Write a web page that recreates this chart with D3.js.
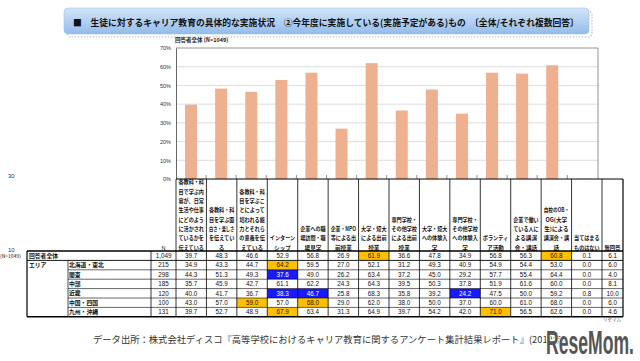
<!DOCTYPE html>
<html><head><meta charset="utf-8">
<script src="https://cdn.jsdelivr.net/npm/d3@7"></script>
<style>
body{margin:0;background:#fff;}
svg{display:block;font-family:"Noto Sans CJK JP","Noto Sans",sans-serif;}
</style></head><body>
<svg id="c" width="640" height="361"></svg>
<script>
// ---------- data ----------
const title = "■　生徒に対するキャリア教育の具体的な実施状況　②今年度に実施している(実施予定がある)もの　〔全体/それぞれ複数回答〕";
const chartSubtitle = "回答者全体 (N=1049)";
const columnLabels = [
  ["各教科・科","目で学ぶ内","容が、日常","生活や仕事","にどのよう","に活かされ","ているかを","伝えている"],
  ["各教科・科","目を学ぶ面","白さ・楽しさ","を伝えてい","る"],
  ["各教科・科","目を学ぶこ","とによって","培われる能","力とそれら","の意義を伝","えている"],
  ["インターン","シップ"],
  ["企業への職","場訪問・職","場見学"],
  ["企業・NPO","等による出","前授業"],
  ["大学・短大","による出前","授業"],
  ["専門学校・","その他学校","による出前","授業"],
  ["大学・短大","への体験入","学"],
  ["専門学校・","その他学校","への体験入","学"],
  ["ボランティ","ア活動"],
  ["企業で働い","ている人に","よる講演","会・講話"],
  ["自校のOB・","OG(大学","生)による","講演会・講","話"],
  ["当てはまる","ものはない"],
  ["無回答"]
];
const columnIds = columnLabels.map((d,i)=>"c"+i);
const totalN = "1,049";
const totalValues = [39.7,48.3,46.6,52.9,56.8,26.9,61.9,36.6,47.8,34.9,56.8,56.3,60.8,0.1,6.1];
const chartCount = 14; // 無回答 is not charted
const yTicks = [0,10,20,30,40,50,60,70];
const regionGroup = "エリア";
const regions = ["北海道・東北","関東","中部","近畿","中国・四国","九州・沖縄"];
const regionN = [215,298,185,120,100,131];
const regionValues = [
  [34.9,43.3,44.7,64.2,59.5,27.0,52.1,31.2,49.3,40.9,54.9,54.4,53.0,0.0,6.0],
  [44.3,51.3,49.3,37.6,49.0,26.2,63.4,37.2,45.0,29.2,57.7,55.4,64.4,0.0,4.0],
  [35.7,45.9,42.7,61.1,62.2,24.3,64.3,39.5,50.3,37.8,51.9,61.6,60.0,0.0,8.1],
  [40.0,41.7,36.7,38.3,46.7,25.8,68.3,35.8,39.2,24.2,47.5,50.0,59.2,0.8,10.0],
  [43.0,57.0,59.0,57.0,68.0,29.0,62.0,38.0,50.0,37.0,60.0,61.0,68.0,0.0,6.0],
  [39.7,52.7,48.9,67.9,63.4,31.3,64.9,39.7,54.2,42.0,71.0,56.5,62.6,0.0,4.6]
];
const footer = "データ出所：株式会社ディスコ『高等学校におけるキャリア教育に関するアンケート集計結果レポート』(2012年)";

// ---------- helpers ----------
function putText(parent, str, px, py, anchor, maxW, attrs) {
  const t = parent.append("text").attr("x",0).attr("y",0).attr("text-anchor",anchor).text(str);
  Object.entries(attrs).forEach(([k,v]) => t.attr(k,v));
  const w = t.node().getComputedTextLength();
  const s = (maxW && w > maxW) ? maxW / w : 1;
  t.attr("transform", `translate(${px},${py}) scale(${s},1)`);
  return t;
}

// ---------- drawing ----------
const svg = d3.select("#c");
const defs = svg.append("defs");
const g1 = defs.append("linearGradient").attr("id","tb").attr("x1",0).attr("y1",0).attr("x2",0).attr("y2",1);
g1.append("stop").attr("offset","0").attr("stop-color","#d3e5f8");
g1.append("stop").attr("offset","1").attr("stop-color","#93bcec");

// title bar
svg.append("rect").attr("x",67).attr("y",11).attr("width",525).attr("height",26).attr("rx",4)
  .attr("fill","none").attr("stroke","#c8cfd8").attr("stroke-width",1.5).attr("stroke-dasharray","1.5,1.5");
svg.append("rect").attr("x",64).attr("y",8).attr("width",525).attr("height",26).attr("rx",4)
  .attr("fill","url(#tb)").attr("stroke","#9fc2ea").attr("stroke-width",0.6);
putText(svg, title, 73, 25.5, "start", 506, {"font-size":9.2, "font-weight":"bold", "fill":"#111"});

putText(svg, chartSubtitle, 175, 41.5, "start", null, {"font-size":5.5, "font-weight":"bold", "fill":"#222"});

// chart scales
const chartCats = columnIds.slice(0, chartCount);
const x = d3.scaleBand(chartCats, [176, 597.4]).paddingInner(0.6).paddingOuter(0.3);
const y = d3.scaleLinear([0,70],[179,48]);

// gridlines
svg.append("g").selectAll("line").data(yTicks.filter(t=>t>0 && t<70)).join("line")
  .attr("x1",176).attr("x2",598).attr("y1",d=>y(d)).attr("y2",d=>y(d))
  .attr("stroke","#d4d4d4").attr("stroke-width",0.8);
// frame
svg.append("path").attr("d",`M176,${y(70)}H598V${y(0)}`).attr("fill","none").attr("stroke","#7a7a7a").attr("stroke-width",0.8);

// bars
svg.append("g").selectAll("rect").data(chartCats).join("rect")
  .attr("x",d=>x(d)).attr("width",x.bandwidth())
  .attr("y",(d,i)=>y(totalValues[i])).attr("height",(d,i)=>y(0)-y(totalValues[i]))
  .attr("fill","#efb08f");

// y axis
const ya = svg.append("g").attr("transform","translate(176,0)")
  .call(d3.axisLeft(y).tickValues(yTicks).tickFormat(d=>d+"%").tickSize(0).tickPadding(5));
ya.select(".domain").attr("stroke","#555").attr("stroke-width",0.9);
ya.selectAll("text").attr("font-size",5.5).attr("fill","#333").attr("font-family","Liberation Sans, sans-serif");

// x ticks (category boundaries)
const step = x.step();
svg.append("g").selectAll("line").data(chartCats.slice(1)).join("line")
  .attr("x1",d=>x(d)-(step-x.bandwidth())/2).attr("x2",d=>x(d)-(step-x.bandwidth())/2)
  .attr("y1",y(0)).attr("y2",y(0)-4).attr("stroke","#666").attr("stroke-width",0.7);

// ---------- table ----------
const tx = d3.scaleBand(chartCats, [176, 602]);
const colL = i => i < chartCount ? tx(columnIds[i]) : 602;
const colR = i => i < chartCount ? tx(columnIds[i]) + tx.bandwidth() : 623;
const colC = i => (colL(i)+colR(i))/2;
const headTop = 179, headBot = 251, rowH = 9.4;
const rowTop = r => headBot + r*rowH; // r=0 total row
const tableBottom = rowTop(regions.length+1);
const T = svg.append("g");

function hl(val, totalVal, isTotal){
  if (isTotal) {
    const sorted = totalValues.slice().sort((a,b)=>b-a);
    return val >= sorted[1] ? "high" : null;
  }
  if (val - totalVal >= 10) return "high";
  if (totalVal - val >= 10) return "low";
  return null;
}
const numFont = "Liberation Sans Narrow, Liberation Sans, sans-serif";
const allRows = [{n:totalN, v:totalValues, total:true}].concat(regions.map((r,k)=>({n:regionN[k], v:regionValues[k], total:false})));
allRows.forEach((row, r) => {
  row.v.forEach((val, i) => {
    const h = hl(val, totalValues[i], row.total);
    if (h) T.append("rect").attr("x",colL(i)).attr("y",rowTop(r)).attr("width",colR(i)-colL(i)).attr("height",rowH)
      .attr("fill", h==="high" ? "#ffc000" : "#1a1aff");
    putText(T, val.toFixed(1), colC(i), rowTop(r)+rowH/2+2.2, "middle", colR(i)-colL(i)-3,
      {"font-size":6.3, "font-family":numFont, "fill": h==="low" ? "#fff" : "#111"});
  });
  putText(T, String(row.n), 163.5, rowTop(r)+rowH/2+2.2, "middle", 22,
    {"font-size":6.3, "font-family":numFont, "fill":"#111"});
});

// header labels (fit to column width)
columnLabels.forEach((lines, i) => {
  const lh = 9.3;
  const maxW = colR(i) - colL(i) - 5;
  lines.forEach((ln, k) => {
    putText(T, ln, colC(i), 249.5 - (lines.length-1-k)*lh, "middle", maxW,
      {"font-size":5.6, "font-weight":"bold", "fill":"#111"});
  });
});
putText(T, "N", 163.5, 249.5, "middle", null, {"font-size":5.6, "font-family":"Liberation Sans, sans-serif", "fill":"#111"});

// row labels
putText(T, "(N=1049)", 0, rowTop(0)+rowH/2+2, "start", 25.5, {"font-size":5, "fill":"#111"});
putText(T, "回答者全体", 29, rowTop(0)+rowH/2+2, "start", 60, {"font-size":5.8, "font-weight":"bold", "fill":"#111"});
putText(T, regionGroup, 29, rowTop(1)+rowH/2+2, "start", 37, {"font-size":5.8, "font-weight":"bold", "fill":"#111"});
regions.forEach((r,k)=>{
  putText(T, r, 69, rowTop(k+1)+rowH/2+2, "start", 78, {"font-size":5.8, "font-weight":"bold", "fill":"#111"});
});

// table lines
const L = (x1,y1,x2,y2,w) => T.append("line").attr("x1",x1).attr("y1",y1).attr("x2",x2).attr("y2",y2).attr("stroke","#000").attr("stroke-width",w);
L(176, headTop, 623, headTop, 1);
for (let i=0;i<columnLabels.length;i++) L(colL(i), headTop, colL(i), tableBottom, 0.8);
L(623, headTop, 623, tableBottom, 1.2);
L(27, headBot, 623, headBot, 1.4);
L(27, rowTop(1), 623, rowTop(1), 0.9);
for (let r=2;r<=regions.length;r++) L(68, rowTop(r), 623, rowTop(r), 0.6);
L(27, tableBottom, 623, tableBottom, 1.4);
L(27, headBot, 27, tableBottom, 1.2);
L(68, rowTop(1), 68, tableBottom, 0.7);
L(151, headBot, 151, tableBottom, 0.8);

// stray slide numbers
putText(svg, "30", 8, 178, "start", null, {"font-size":6, "fill":"#333", "font-family":"Liberation Sans, sans-serif"});
putText(svg, "10", 8, 252, "start", null, {"font-size":6, "fill":"#333", "font-family":"Liberation Sans, sans-serif"});

// footer (its tail runs under the logo, as in the source picture)
putText(svg, footer, 93, 343, "start", 505, {"font-size":9.3, "fill":"#333"});

// logo
putText(svg, "ReseMom.", 546, 354, "start", 88,
  {"font-size":34, "font-weight":"bold", "font-family":numFont, "fill":"#555",
   "stroke":"#fff", "stroke-width":3, "paint-order":"stroke"});
putText(svg, "リセマム", 603, 321, "start", null, {"font-size":4.5, "fill":"#666"});
</script>
</body></html>
